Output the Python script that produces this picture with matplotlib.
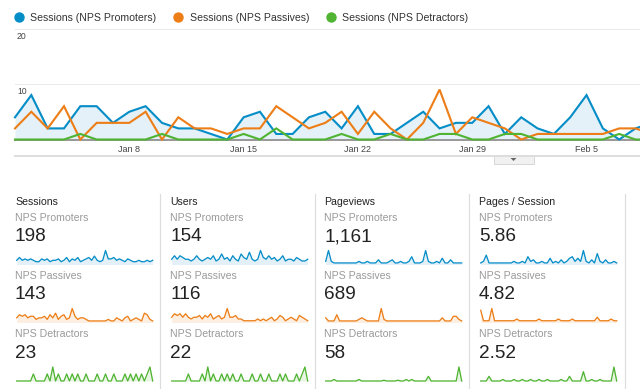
import matplotlib
matplotlib.use('Agg')
import matplotlib.pyplot as plt
from matplotlib.lines import Line2D
from matplotlib.patches import Rectangle, Polygon

W, H = 640, 389
plt.rcParams['font.family'] = ['Liberation Sans', 'DejaVu Sans']

# ---------------- data ----------------
series_names = ['Sessions (NPS Promoters)', 'Sessions (NPS Passives)', 'Sessions (NPS Detractors)']
colors = ['#058dc7', '#ed7e17', '#50b432']
days = list(range(40))  # Jan 1 .. Feb 9
promoters = [4, 8, 2, 2, 6, 6, 3, 5, 6, 3, 2, 2, 1, 0, 4, 5, 1, 1, 4, 5,
             2, 6, 1, 1, 3, 5, 2, 3, 3, 6, 1, 4, 2, 1, 4, 8, 2, 0, 2, 3]
passives = [2, 5, 2, 6, 0, 3, 3, 3, 5, 0, 4, 2, 2, 1, 2, 2, 6, 4, 2, 3,
            5, 1, 5, 2, 0, 3, 9, 1, 4, 3, 2, 0, 1, 1, 1, 1, 1, 2, 2, 1]
detractors = [0, 0, 0, 0, 1, 0, 0, 0, 0, 1, 0, 0, 0, 0, 1, 0, 2, 0, 0, 0,
              1, 0, 0, 1, 0, 0, 1, 1, 0, 0, 1, 1, 0, 0, 0, 0, 0, 1, 0, 0]
tick_days = [7, 14, 21, 28, 35]
tick_labels = ['Jan 8', 'Jan 15', 'Jan 22', 'Jan 29', 'Feb 5']
y_ticks = [10, 20]

metric_titles = ['Sessions', 'Users', 'Pageviews', 'Pages / Session']
segment_names = ['NPS Promoters', 'NPS Passives', 'NPS Detractors']
metric_values = [['198', '143', '23'],
                 ['154', '116', '22'],
                 ['1,161', '689', '58'],
                 ['5.86', '4.82', '2.52']]

sess_prom = [3, 5, 3, 4, 3, 4, 3, 2, 2, 4, 3, 4, 2, 3, 3, 4, 2, 3, 5, 2, 4, 3, 5, 2, 3,
             4, 5, 3, 6, 3, 2, 3, 10, 4, 4, 5, 3, 4, 3, 2, 4, 3, 2, 2, 3, 2, 2, 3, 2, 3]
sess_pass = [3, 5, 4, 5, 3, 4, 4, 2, 3, 3, 4, 2, 5, 3, 6, 2, 4, 5, 2, 3, 9, 4, 2, 3, 3,
             2, 1, 1, 1, 1, 1, 1, 1, 2, 1, 1, 3, 2, 1, 3, 4, 1, 2, 3, 2, 1, 6, 5, 2, 1]
sess_det = [0, 0, 0, 0, 0, 0, 1, 0, 0, 0, 0, 1, 0, 2, 0, 1, 0, 0, 1, 0, 1, 0, 1, 0, 0,
            1, 0, 0, 0, 1, 0, 0, 1, 0, 0, 1, 0, 0, 0, 1, 0, 1, 0, 1, 0, 1, 0, 1, 2, 0]
user_prom = [3, 5, 3, 5, 4, 3, 3, 2, 3, 5, 3, 2, 3, 4, 3, 5, 2, 3, 6, 3, 4, 2, 5, 3, 2,
             6, 4, 3, 7, 3, 2, 3, 8, 4, 3, 5, 3, 4, 2, 3, 5, 2, 3, 3, 2, 4, 3, 2, 2, 3]
user_pass = [3, 5, 4, 5, 3, 5, 3, 2, 3, 3, 4, 2, 4, 3, 5, 2, 3, 4, 2, 3, 8, 3, 3, 4, 2,
             2, 1, 1, 1, 1, 1, 2, 1, 2, 1, 2, 3, 1, 2, 4, 3, 1, 2, 3, 2, 1, 4, 3, 2, 1]
user_det = [0, 0, 0, 0, 0, 0, 1, 0, 0, 0, 0, 1, 0, 2, 0, 1, 0, 0, 1, 0, 1, 0, 1, 0, 0,
            1, 0, 0, 0, 1, 0, 0, 1, 0, 0, 1, 0, 0, 0, 1, 0, 1, 0, 0, 0, 1, 0, 1, 2, 0]
pv_prom = [2, 9, 2, 1, 1, 1, 1, 1, 1, 1, 1, 1, 2, 1, 1, 2, 1, 1, 1, 3, 1, 1, 1, 2, 3,
           1, 1, 2, 1, 1, 2, 5, 1, 1, 1, 2, 9, 2, 1, 1, 2, 1, 4, 1, 1, 3, 1, 1, 1, 1]
pv_pass = [3, 1, 1, 1, 5, 1, 1, 1, 1, 1, 1, 1, 2, 3, 2, 1, 1, 1, 1, 1, 9, 2, 1, 1, 1,
           1, 1, 1, 1, 1, 1, 1, 1, 1, 1, 1, 1, 1, 1, 1, 1, 1, 3, 1, 1, 1, 4, 4, 2, 1]
pv_det = [0, 0, 0, 1, 0, 0, 0, 0, 0, 0, 0, 0, 1, 0, 0, 0, 0, 0, 0, 0, 0, 0.5, 0, 0, 0,
          0, 0.5, 0, 0, 1, 0, 1, 0, 0, 0, 0, 0, 3, 0, 0, 0, 0, 0, 0, 0, 0, 0, 0, 9, 0]
ps_prom = [1, 2, 6, 1, 1, 1, 1, 1, 1, 1, 1, 1, 2, 1, 1, 2, 1, 5, 2, 3, 1, 1, 2, 1, 1,
           4, 1, 2, 1, 3, 1, 2, 4, 5, 2, 4, 2, 9, 2, 1, 3, 1, 7, 2, 1, 3, 1, 1, 2, 1]
ps_pass = [7, 1, 1, 1, 8, 1, 1, 1, 1, 1, 1, 1, 1, 2, 1, 1, 1, 1, 1, 1, 1, 2, 1, 1, 1,
           1, 1, 1, 2, 1, 1, 1, 1, 2, 1, 1, 1, 1, 1, 1, 1, 1, 3, 1, 1, 1, 1, 2, 1, 1]
ps_det = [0, 0, 0, 3, 0, 0, 0, 0, 1, 0, 0, 0, 1, 0, 0, 1, 0, 0, 1, 0, 0, 1, 0, 0, 1,
          0, 0, 0, 0, 1, 0, 0, 3, 0, 0, 0, 0, 6, 0, 0, 1, 0, 0, 1, 0, 0, 0, 0, 9, 0]
sparks = [[sess_prom, sess_pass, sess_det],
          [user_prom, user_pass, user_det],
          [pv_prom, pv_pass, pv_det],
          [ps_prom, ps_pass, ps_det]]

# ---------------- helpers ----------------
def fx(x):
    return x / W

def fy(y):
    return 1 - y / H

PT = 0.72  # points per pixel at dpi 100

fig = plt.figure(figsize=(W / 100, H / 100), dpi=100)
fig.patch.set_facecolor('white')

# ---------------- legend ----------------
leg_dot_x = [19, 177.5, 331]
leg_text_x = [30.5, 189.5, 342.5]
for i in range(3):
    fig.add_artist(Line2D([fx(leg_dot_x[i])], [fy(16.5)], marker='o', ms=9 * PT,
                          color=colors[i], transform=fig.transFigure, lw=0))
    fig.text(fx(leg_text_x[i]), fy(20.6), series_names[i], fontsize=10.5 * PT,
             color='#333333', ha='left', va='baseline')

# ---------------- main chart ----------------
x0_px, base_px, top_px = 15, 139.5, 28.5
day_px = 16.33
ax = fig.add_axes([fx(x0_px), fy(base_px), (W - x0_px) / W, (base_px - top_px) / H])
ax.set_xlim(0, (W - x0_px) / day_px)
ax.set_ylim(0, 20)
for s in ax.spines.values():
    s.set_visible(False)
ax.set_facecolor('none')
ax.set_yticks(y_ticks)
ax.set_yticklabels([])
ax.tick_params(axis='y', length=0)
ax.grid(axis='y', color='#e9e9e9', lw=1 * PT)
ax.set_xticks(tick_days)
ax.set_xticklabels(tick_labels, fontsize=9 * PT, color='#444444')
ax.tick_params(axis='x', length=0, pad=4.2)
for v in y_ticks:
    ax.text(2 / (W - x0_px), v - 0.6, str(v), transform=ax.get_yaxis_transform(),
            fontsize=8.7 * PT, color='#444444', ha='left', va='top')

ax.fill_between(days, promoters, 0, color='#e4f1f8', lw=0, clip_on=False, zorder=1)
ax.axhline(0, color='#9a9a9a', lw=2 * PT, zorder=2, clip_on=False)
for data, c in zip([promoters, passives, detractors], colors):
    ax.plot(days, data, color=c, lw=2.1 * PT, clip_on=False, zorder=3,
            solid_joinstyle='miter')

# bottom border and tab
fig.add_artist(Line2D([fx(15), fx(W)], [fy(156), fy(156)], color='#dddddd',
                      lw=2 * PT, transform=fig.transFigure))
fig.add_artist(Rectangle((fx(493.5), fy(163.5)), 40 / W, 7.5 / H, facecolor='#f1f1f1',
                         edgecolor='#d0d0d0', lw=0.8 * PT, transform=fig.transFigure))
fig.add_artist(Polygon([[fx(510.5), fy(158)], [fx(516.5), fy(158)], [fx(513.5), fy(161)]],
                       closed=True, facecolor='#666666', edgecolor='none',
                       transform=fig.transFigure))

# ---------------- scorecards ----------------
col_x = [15, 170, 324, 479]
sep_x = [160, 315, 469, 625]
for sx in sep_x:
    fig.add_artist(Line2D([fx(sx), fx(sx)], [fy(194), fy(H)], color='#dddddd',
                          lw=1.2 * PT, transform=fig.transFigure))

label_base = [220.7, 279, 337]
num_base = [241, 299, 357.5]
spark_base = [264.5, 322.5, 381]
fills = ['#e3f0f8', '#fcefe2', '#e8f5e3']
for ci, cx in enumerate(col_x):
    fig.text(fx(cx), fy(205), metric_titles[ci], fontsize=10.5 * PT, color='#222222',
             ha='left', va='baseline')
    for ri in range(3):
        fig.text(fx(cx), fy(label_base[ri]), segment_names[ri], fontsize=10.5 * PT,
                 color='#9a9a9a', ha='left', va='baseline')
        fig.text(fx(cx), fy(num_base[ri]), metric_values[ci][ri], fontsize=19 * PT,
                 color='#222222', ha='left', va='baseline')
        data = sparks[ci][ri]
        sax = fig.add_axes([fx(cx + 1.7), fy(spark_base[ri]), 136 / W, 14 / H])
        sax.set_xlim(0, len(data) - 1)
        sax.set_ylim(0, max(data))
        sax.axis('off')
        xs = list(range(len(data)))
        sax.fill_between(xs, data, 0, color=fills[ri], lw=0, clip_on=False)
        sax.plot(xs, data, color=colors[ri], lw=1.3 * PT, clip_on=False)

fig.savefig('out.png', dpi=100, facecolor='white')
